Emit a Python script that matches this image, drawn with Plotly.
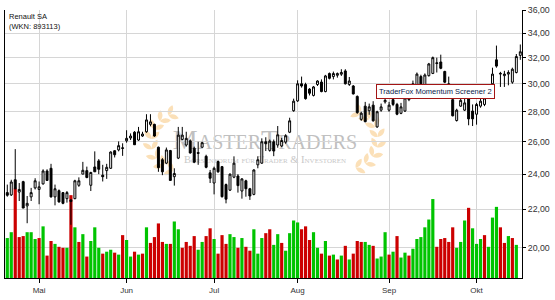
import numpy as np
import plotly.graph_objects as go

# ---------------- data ----------------
day_index = list(range(130))

open_ = [22.93, 22.80, 23.67, 22.96, 23.56, 22.19, 22.69, 23.20, 23.11, 23.43,
         24.19, 24.35, 22.69, 23.04, 22.93, 22.59, 22.52, 22.59, 23.35, 24.00,
         24.21, 23.35, 24.43, 24.80, 23.94, 24.21, 24.35, 25.43, 25.48, 25.57,
         26.06, 26.24, 26.62, 26.11, 26.37, 26.65, 27.14, 27.14, 25.65, 24.87,
         24.66, 25.44, 23.85, 24.97, 26.15, 25.79, 26.06, 25.59, 25.31, 25.65,
         25.08, 24.08, 23.48, 24.76, 24.45, 23.39, 23.07, 23.82, 23.89, 23.02,
         23.61, 23.15, 22.83, 24.56, 24.66, 26.00, 25.45, 26.00, 25.79, 25.73,
         25.98, 26.62, 28.07, 28.76, 30.00, 29.95, 29.61, 29.15, 29.95, 30.13,
         29.43, 30.77, 30.54, 30.64, 30.72, 30.97, 29.95, 29.84, 29.08, 27.48,
         28.39, 28.07, 28.46, 26.97, 28.11, 28.69, 28.11, 28.85, 28.51, 27.89,
         28.05, 28.85, 29.43, 29.89, 30.54, 29.89, 30.61, 30.78, 31.54, 31.66,
         30.93, 30.00, 28.85, 27.40, 28.39, 28.11, 28.90, 28.05, 27.83, 28.39,
         28.51, 29.08, 30.00, 31.83, 30.73, 30.61, 30.73, 30.12, 30.85, 32.18]
high = [23.39, 23.67, 25.53, 23.48, 23.61, 22.74, 23.20, 23.76, 23.57, 24.29,
        24.29, 24.62, 23.39, 23.11, 22.96, 23.02, 22.56, 23.67, 23.81, 24.74,
        24.45, 24.14, 25.39, 24.91, 24.56, 24.62, 25.39, 25.46, 26.02, 25.90,
        26.75, 26.54, 26.69, 26.97, 26.65, 27.83, 27.83, 27.18, 25.69, 24.97,
        25.63, 25.48, 24.35, 26.97, 26.97, 26.65, 26.15, 25.69, 26.00, 26.00,
        25.18, 24.25, 24.45, 24.82, 24.49, 23.45, 24.04, 25.08, 24.00, 23.76,
        23.67, 23.20, 24.29, 25.08, 26.22, 26.29, 26.14, 26.14, 27.03, 26.25,
        26.49, 27.59, 28.92, 30.26, 30.54, 30.08, 29.68, 29.84, 30.26, 30.33,
        30.67, 30.85, 30.92, 30.85, 31.10, 31.10, 30.51, 29.91, 29.15, 28.00,
        28.69, 28.57, 28.74, 28.07, 28.57, 29.03, 28.69, 29.01, 28.62, 28.62,
        29.08, 29.77, 30.24, 30.85, 30.68, 30.78, 31.59, 32.09, 32.00, 32.24,
        30.98, 30.54, 28.97, 28.21, 29.08, 28.97, 29.08, 28.51, 28.62, 28.97,
        29.20, 29.77, 31.22, 32.97, 30.90, 30.98, 31.02, 31.22, 32.29, 33.06]
low = [22.70, 22.74, 23.11, 22.46, 22.07, 21.26, 22.46, 23.11, 22.28, 23.39,
       23.63, 22.65, 22.22, 22.37, 22.28, 22.37, 21.18, 22.56, 23.26, 24.00,
       23.76, 23.02, 24.14, 24.00, 23.57, 23.72, 24.31, 25.01, 25.39, 25.11,
       25.94, 26.11, 25.79, 26.06, 26.32, 26.58, 27.01, 26.32, 24.14, 23.94,
       24.60, 23.63, 23.33, 24.91, 26.11, 25.69, 25.25, 24.66, 24.56, 25.59,
       24.35, 23.48, 22.83, 24.08, 22.65, 22.33, 23.02, 23.76, 22.93, 22.59,
       22.70, 22.52, 22.78, 24.35, 24.62, 25.41, 25.37, 25.09, 25.62, 25.66,
       25.87, 26.56, 28.00, 28.69, 29.72, 28.85, 29.15, 29.08, 29.84, 29.38,
       29.38, 30.33, 30.33, 30.46, 30.59, 29.95, 29.84, 29.22, 27.86, 27.38,
       27.28, 27.79, 27.32, 26.91, 28.00, 28.57, 28.00, 28.39, 27.76, 27.83,
       27.98, 28.74, 29.36, 29.77, 29.77, 29.77, 30.54, 30.73, 30.85, 31.10,
       30.05, 29.31, 27.68, 27.33, 28.34, 28.05, 27.08, 27.03, 27.12, 28.28,
       28.39, 28.97, 29.89, 31.22, 29.77, 29.77, 29.89, 30.00, 30.78, 31.83]
close = [22.78, 23.54, 23.15, 23.11, 22.07, 22.33, 22.93, 23.61, 23.26, 24.19,
         23.63, 22.69, 23.15, 22.41, 22.33, 22.93, 22.43, 23.61, 23.61, 24.23,
         23.80, 24.10, 24.14, 24.29, 23.85, 24.41, 25.35, 25.18, 25.75, 25.61,
         26.22, 26.37, 25.81, 26.65, 26.50, 27.44, 27.31, 26.37, 24.39, 24.14,
         25.48, 23.63, 24.04, 26.43, 26.43, 26.22, 25.29, 24.72, 25.27, 25.94,
         24.41, 23.76, 24.35, 24.14, 22.70, 22.56, 24.00, 24.66, 23.33, 23.72,
         23.15, 22.74, 24.25, 24.87, 26.00, 25.87, 26.04, 25.41, 26.45, 26.08,
         26.39, 27.38, 28.74, 30.00, 29.84, 28.92, 29.31, 29.77, 30.21, 29.43,
         30.59, 30.41, 30.77, 30.77, 30.85, 30.00, 30.21, 29.26, 27.94, 27.90,
         27.32, 28.34, 27.38, 28.00, 28.34, 28.80, 28.46, 28.51, 27.83, 28.34,
         28.97, 29.54, 30.00, 30.73, 30.00, 30.66, 31.51, 32.00, 31.59, 31.17,
         30.12, 29.77, 27.72, 28.11, 28.80, 28.62, 27.51, 27.51, 28.51, 28.74,
         28.97, 29.54, 30.73, 31.34, 30.78, 30.73, 30.85, 31.10, 32.09, 32.47]

# volume in millions of shares (first 129 sessions)
volume = [4.1, 4.7, 9.2, 4.2, 4.3, 4.7, 4.7, 4.0, 4.1, 5.3,
          2.3, 3.8, 3.5, 3.2, 3.1, 3.1, 8.5, 5.2, 3.7, 4.5,
          2.2, 3.8, 5.2, 3.1, 2.5, 2.7, 2.9, 2.6, 2.4, 4.4,
          3.9, 2.2, 2.7, 2.4, 2.5, 5.2, 3.6, 4.2, 5.6, 3.7,
          3.5, 3.5, 5.8, 5.0, 3.1, 3.7, 3.3, 4.3, 2.9, 3.7,
          4.3, 5.1, 4.0, 2.5, 4.4, 3.5, 4.5, 4.2, 3.1, 4.1,
          3.2, 2.8, 5.0, 2.5, 4.1, 4.6, 5.0, 3.4, 4.5, 3.6,
          2.8, 4.6, 5.9, 5.7, 5.0, 5.3, 3.9, 4.7, 3.1, 2.5,
          3.8, 2.3, 2.4, 1.9, 2.3, 3.3, 1.9, 2.5, 3.8, 3.7,
          3.7, 3.4, 3.3, 2.0, 2.2, 4.7, 2.4, 2.7, 4.3, 2.1,
          2.6, 2.3, 3.0, 4.0, 4.2, 5.2, 6.0, 8.1, 3.2, 4.0,
          4.1, 3.7, 5.2, 3.1, 3.7, 5.9, 7.2, 5.1, 3.5, 4.0,
          4.4, 3.2, 6.2, 7.3, 5.2, 3.6, 4.3, 4.1, 3.4]
# g = up volume (green), r = down volume (red)
volume_dir = ("ggrrrgggrg" "rrgrrgrgrg" "rgggrggrgr" "ggrgrgrrrr" "grggrrrrgg"
              "rrgrrrggrg" "rrgggrrggr" "ggggrrrggr" "grgrgrgrrr" "ggrgggrgrg"
              "grggggggrr" "rrrgggrggg" "rgggrrgrg")

month_ticks = [8, 30, 52, 73, 96, 118]
month_labels = ["Mai", "Jun", "Jul", "Aug", "Sep", "Okt"]
price_ticks = [20, 22, 24, 26, 28, 30, 32, 34, 36]
price_range = [18.57, 36.0]
volume_range = [0, 27.5]

title_text = "Renault SA<br>(WKN: 893113)"
signal_text = "TraderFox Momentum Screener 2"
signal_index = 128
watermark_main = "MasterTraders"
watermark_sub = "Börsenforum für Trader & Investoren"

# ---------------- figure ----------------
W, H = 555, 300
ML, MR, MT, MB = 5, 30, 5, 20
PW, PH = W - ML - MR, H - MT - MB

def px2paper(px, py):
    return (px - ML) / PW, (H - MB - py) / PH

GREEN = "#00c400"
RED = "#cc0000"
FONT = "Liberation Sans"

fig = go.Figure()
fig.add_trace(go.Bar(
    x=day_index[:len(volume)], y=volume,
    marker=dict(color=[GREEN if d == "g" else RED for d in volume_dir], line=dict(width=0)),
    width=0.8, yaxis="y", hoverinfo="skip", showlegend=False))
fig.add_trace(go.Candlestick(
    x=day_index, open=open_, high=high, low=low, close=close, yaxis="y2",
    increasing=dict(line=dict(color="black", width=1), fillcolor="white"),
    decreasing=dict(line=dict(color="black", width=1), fillcolor="black"),
    whiskerwidth=0, showlegend=False))

shapes = []
# watermark laurel leaves (decoration)
def leaf(px, py, ang, L=9, w=3.2, color="#fbe0b8"):
    d = np.array([np.cos(ang), np.sin(ang)])
    n = np.array([-d[1], d[0]])
    P = np.array([px, py])
    pts = [P, P + 0.3 * L * d + w * n, P + 0.7 * L * d + w * n, P + L * d,
           P + 0.7 * L * d - w * n, P + 0.3 * L * d - w * n]
    pp = [px2paper(*p) for p in pts]
    path = "M {:.5f},{:.5f} C {:.5f},{:.5f} {:.5f},{:.5f} {:.5f},{:.5f} C {:.5f},{:.5f} {:.5f},{:.5f} {:.5f},{:.5f} Z".format(
        pp[0][0], pp[0][1], pp[1][0], pp[1][1], pp[2][0], pp[2][1], pp[3][0], pp[3][1],
        pp[4][0], pp[4][1], pp[5][0], pp[5][1], pp[0][0], pp[0][1])
    return dict(type="path", path=path, xref="paper", yref="paper", layer="below",
                fillcolor=color, line=dict(width=0))

# two wreath branches, each curving upward along an arc
for side, cx, cy in ((-1, 182, 140), (1, 350, 138)):
    r = 30
    for a_deg in np.linspace(75, -65, 8):          # from bottom to top
        a = np.deg2rad(a_deg)
        bx = cx + side * r * np.cos(a)
        by = cy + r * np.sin(a)
        # tangent direction (pointing upward along the branch)
        tx, ty = side * np.sin(a), -np.cos(a)
        base = np.arctan2(ty, tx)
        shapes.append(leaf(bx, by, base - side * 0.75, L=11, w=3.2))
        shapes.append(leaf(bx, by, base + side * 0.75, L=11, w=3.2))

x0, y0 = px2paper(168, 120)
x1, y1 = px2paper(365, 150)
shapes.append(dict(type="rect", xref="paper", yref="paper", x0=x0, x1=x1, y0=y1, y1=y0,
                   line=dict(width=0), fillcolor="rgba(0,0,0,0)", layer="below",
                   label=dict(text=watermark_main, textposition="middle center",
                              font=dict(family="Liberation Serif", size=28, color="#c0c0c0",
                                        variant="small-caps"))))
x0, y0 = px2paper(168, 151)
x1, y1 = px2paper(365, 163)
shapes.append(dict(type="rect", xref="paper", yref="paper", x0=x0, x1=x1, y0=y1, y1=y0,
                   line=dict(width=0), fillcolor="rgba(0,0,0,0)", layer="below",
                   label=dict(text=watermark_sub, textposition="middle center",
                              font=dict(family="Liberation Serif", size=10.5, color="#c8c8c8",
                                        variant="small-caps"))))

# signal highlight around the flagged candle
k = signal_index
shapes.append(dict(type="rect", xref="x", yref="y2", x0=k - 0.8, x1=k + 0.85,
                   y0=np.log10(low[k] * 0.996), y1=np.log10(high[k] * 0.999),
                   fillcolor="rgba(236,96,96,0.75)", line=dict(width=0), layer="below"))
# connector from label box to highlight
box_x, box_y = 107.7, 29.41
shapes.append(dict(type="line", xref="x", yref="y2", x0=122.6, y0=np.log10(29.93),
                   x1=k - 0.6, y1=np.log10(low[k] * 1.012),
                   line=dict(color="#a31515", width=1.3)))

annotations = [
    dict(text=title_text, xref="paper", yref="paper", x=px2paper(7, 0)[0], y=1, xanchor="left",
         yanchor="top", yshift=0, showarrow=False, align="left",
         font=dict(family=FONT, size=7.5, color="#111")),
    dict(text=signal_text, xref="x", yref="y2", x=box_x, y=np.log10(box_y), xanchor="center",
         yanchor="middle", showarrow=False, bgcolor="white", bordercolor="#a31515",
         borderwidth=1, borderpad=2, font=dict(family=FONT, size=7.5, color="#0a1a4a")),
]

fig.update_layout(
    width=W, height=H, margin=dict(l=ML, r=MR, t=MT, b=MB),
    paper_bgcolor="white", plot_bgcolor="white", separators=",.",
    showlegend=False, shapes=shapes, annotations=annotations,
    xaxis=dict(range=[-0.575, 129.425], tickvals=month_ticks, ticktext=month_labels,
               showgrid=True, gridcolor="#d6d6d6", gridwidth=1, ticks="outside", ticklen=4,
               tickcolor="black", showline=True, linecolor="black", linewidth=1,
               zeroline=False, rangeslider=dict(visible=False),
               tickfont=dict(family=FONT, size=8, color="#333")),
    yaxis=dict(range=volume_range, showgrid=False, showticklabels=False, ticks="",
               showline=True, linecolor="black", linewidth=1, zeroline=False),
    yaxis2=dict(overlaying="y", side="right", type="log",
                range=[np.log10(price_range[0]), np.log10(price_range[1])],
                tickvals=price_ticks, tickformat=".2f", showgrid=True, gridcolor="#d6d6d6",
                gridwidth=1, ticks="outside", ticklen=3, tickcolor="black", showline=True,
                linecolor="black", linewidth=1, zeroline=False,
                tickfont=dict(family=FONT, size=8.8, color="#333")),
)

fig.write_html("out.html")
